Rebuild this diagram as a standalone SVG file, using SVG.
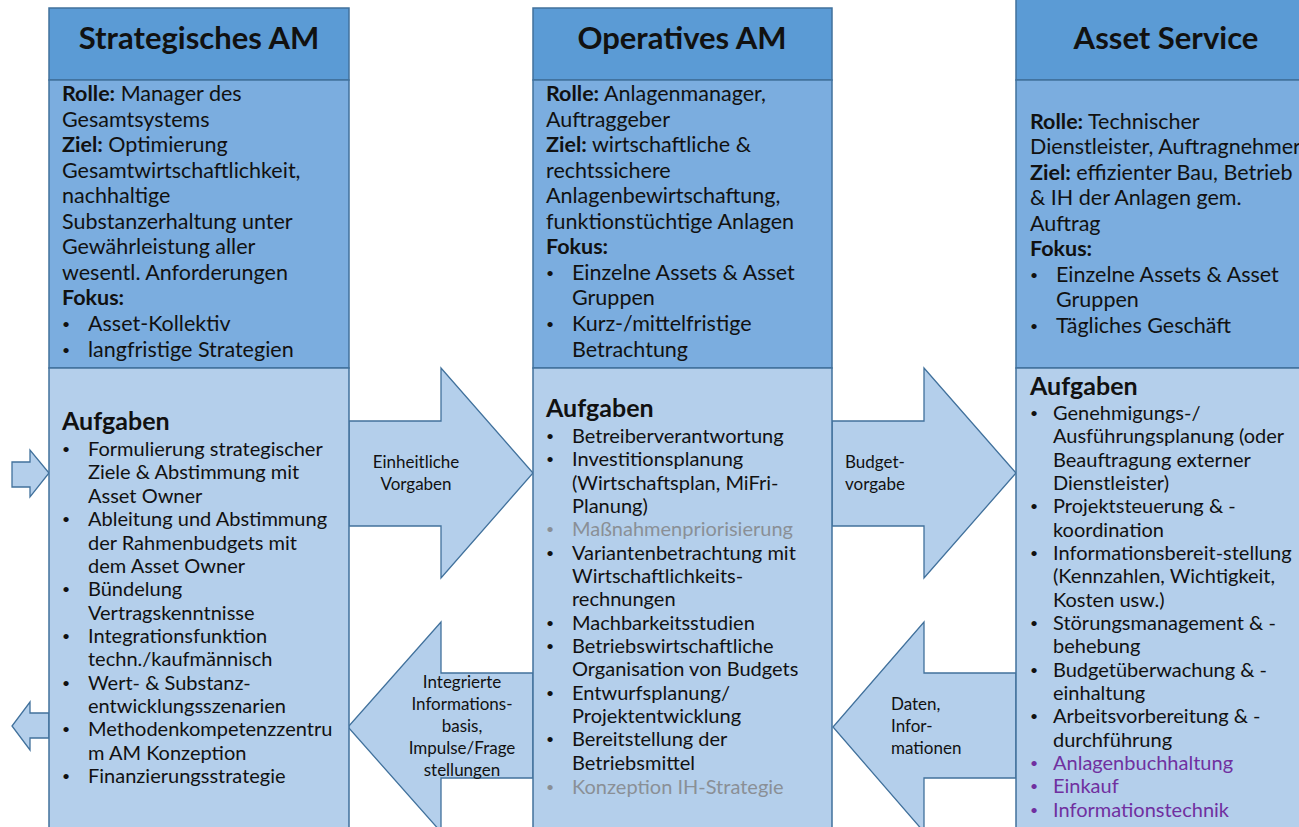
<svg xmlns="http://www.w3.org/2000/svg" width="1299" height="827" viewBox="0 0 1299 827">
<style>
.hd{fill:#5B9BD5;stroke:#41719C;stroke-width:1.5}
.up{fill:#7BADDF;stroke:#41719C;stroke-width:1.5}
.lo{fill:#B4CFEB;stroke:#41719C;stroke-width:1.5}
.ar{fill:#B4CFEB;stroke:#41719C;stroke-width:1.3}
text{font-family:Lato,"Open Sans","Liberation Sans",sans-serif;fill:#111}
.t{font-size:31px;font-weight:bold;text-anchor:middle}
.u{font-size:21.5px}
.l{font-size:20px}
.h{font-size:25px;font-weight:bold}
.b{font-weight:bold}
.g{fill:#8A8F96}
.p{fill:#7030A0}
.a{font-size:17px}
.m{text-anchor:middle}
.d{font-size:14px}
</style>
<rect width="1299" height="827" fill="#fff"/>
<g id="connectors">
<polygon class="ar" points="349,421 441,421 441,368 533,473 441,578 441,526 349,526"/>
<polygon class="ar" points="533,673 441,673 441,622 348,727 441,832 441,778 533,778"/>
<polygon class="ar" points="832,421 924,421 924,368 1016,473 924,578 924,526 832,526"/>
<polygon class="ar" points="1016,673 924,673 924,622 833,727 924,832 924,778 1016,778"/>
<polygon class="ar" points="12,462 30,462 30,450 49,473 30,497 30,487 12,487"/>
<polygon class="ar" points="49,713 30,713 30,702 12,726 30,750 30,738 49,738"/>
<text class="a m" x="416" y="468">Einheitliche</text>
<text class="a m" x="416" y="490">Vorgaben</text>
<text class="a m" x="462" y="688">Integrierte</text>
<text class="a m" x="462" y="710">Informations-</text>
<text class="a m" x="462" y="732">basis,</text>
<text class="a m" x="462" y="754">Impulse/Frage</text>
<text class="a m" x="462" y="776">stellungen</text>
<text class="a" x="845" y="468">Budget-</text>
<text class="a" x="845" y="490">vorgabe</text>
<text class="a" x="891" y="710">Daten,</text>
<text class="a" x="891" y="732">Infor-</text>
<text class="a" x="891" y="754">mationen</text>
</g>
<g id="strategisches">
<rect class="hd" x="49" y="8" width="300" height="72"/>
<rect class="up" x="49" y="80" width="300" height="288"/>
<rect class="lo" x="49" y="368" width="300" height="470"/>
<text class="t" x="199" y="49">Strategisches AM</text>
<g class="u">
<text x="62" y="101"><tspan class="b">Rolle:</tspan> Manager des</text>
<text x="62" y="127">Gesamtsystems</text>
<text x="62" y="152"><tspan class="b">Ziel:</tspan> Optimierung</text>
<text x="62" y="178">Gesamtwirtschaftlichkeit,</text>
<text x="62" y="203">nachhaltige</text>
<text x="62" y="229">Substanzerhaltung unter</text>
<text x="62" y="254">Gewährleistung aller</text>
<text x="62" y="280">wesentl. Anforderungen</text>
<text x="62" y="305" class="b">Fokus:</text>
<text x="62" y="329" class="d">•</text><text x="88" y="331">Asset-Kollektiv</text>
<text x="62" y="355" class="d">•</text><text x="88" y="357">langfristige Strategien</text>
</g>
<text class="h" x="62" y="430">Aufgaben</text>
<g class="l">
<text x="62" y="454" class="d">•</text><text x="88" y="456">Formulierung strategischer</text>
<text x="88" y="479">Ziele &amp; Abstimmung mit</text>
<text x="88" y="503">Asset Owner</text>
<text x="62" y="524" class="d">•</text><text x="88" y="526">Ableitung und Abstimmung</text>
<text x="88" y="550">der Rahmenbudgets mit</text>
<text x="88" y="573">dem Asset Owner</text>
<text x="62" y="594" class="d">•</text><text x="88" y="596">Bündelung</text>
<text x="88" y="620">Vertragskenntnisse</text>
<text x="62" y="641" class="d">•</text><text x="88" y="643">Integrationsfunktion</text>
<text x="88" y="666">techn./kaufmännisch</text>
<text x="62" y="688" class="d">•</text><text x="88" y="690">Wert- &amp; Substanz-</text>
<text x="88" y="713">entwicklungsszenarien</text>
<text x="62" y="734" class="d">•</text><text x="88" y="736">Methodenkompetenzzentru</text>
<text x="88" y="760">m AM Konzeption</text>
<text x="62" y="781" class="d">•</text><text x="88" y="783">Finanzierungsstrategie</text>
</g>
</g>
<g id="operatives">
<rect class="hd" x="533" y="8" width="299" height="72"/>
<rect class="up" x="533" y="80" width="299" height="288"/>
<rect class="lo" x="533" y="368" width="299" height="470"/>
<text class="t" x="682" y="49">Operatives AM</text>
<g class="u">
<text x="546" y="101"><tspan class="b">Rolle:</tspan> Anlagenmanager,</text>
<text x="546" y="127">Auftraggeber</text>
<text x="546" y="152"><tspan class="b">Ziel:</tspan> wirtschaftliche &amp;</text>
<text x="546" y="178">rechtssichere</text>
<text x="546" y="203">Anlagenbewirtschaftung,</text>
<text x="546" y="229">funktionstüchtige Anlagen</text>
<text x="546" y="254" class="b">Fokus:</text>
<text x="546" y="278" class="d">•</text><text x="572" y="280">Einzelne Assets &amp; Asset</text>
<text x="572" y="305">Gruppen</text>
<text x="546" y="329" class="d">•</text><text x="572" y="331">Kurz-/mittelfristige</text>
<text x="572" y="357">Betrachtung</text>
</g>
<text class="h" x="546" y="417">Aufgaben</text>
<g class="l">
<text x="546" y="441" class="d">•</text><text x="572" y="443">Betreiberverantwortung</text>
<text x="546" y="464" class="d">•</text><text x="572" y="466">Investitionsplanung</text>
<text x="572" y="490">(Wirtschaftsplan, MiFri-</text>
<text x="572" y="513">Planung)</text>
<text x="546" y="534" class="d g">•</text><text x="572" y="536" class="g">Maßnahmenpriorisierung</text>
<text x="546" y="558" class="d">•</text><text x="572" y="560">Variantenbetrachtung mit</text>
<text x="572" y="583">Wirtschaftlichkeits-</text>
<text x="572" y="606">rechnungen</text>
<text x="546" y="628" class="d">•</text><text x="572" y="630">Machbarkeitsstudien</text>
<text x="546" y="651" class="d">•</text><text x="572" y="653">Betriebswirtschaftliche</text>
<text x="572" y="676">Organisation von Budgets</text>
<text x="546" y="698" class="d">•</text><text x="572" y="700">Entwurfsplanung/</text>
<text x="572" y="723">Projektentwicklung</text>
<text x="546" y="744" class="d">•</text><text x="572" y="746">Bereitstellung der</text>
<text x="572" y="770">Betriebsmittel</text>
<text x="546" y="792" class="d g">•</text><text x="572" y="794" class="g">Konzeption IH-Strategie</text>
</g>
</g>
<g id="assetservice">
<rect class="hd" x="1016" y="-2" width="300" height="82"/>
<rect class="up" x="1016" y="80" width="300" height="288"/>
<rect class="lo" x="1016" y="368" width="300" height="470"/>
<text class="t" x="1166" y="49">Asset Service</text>
<g class="u">
<text x="1030" y="129"><tspan class="b">Rolle:</tspan> Technischer</text>
<text x="1030" y="154">Dienstleister, Auftragnehmer</text>
<text x="1030" y="180"><tspan class="b">Ziel:</tspan> effizienter Bau, Betrieb</text>
<text x="1030" y="205">&amp; IH der Anlagen gem.</text>
<text x="1030" y="231">Auftrag</text>
<text x="1030" y="256" class="b">Fokus:</text>
<text x="1030" y="280" class="d">•</text><text x="1056" y="282">Einzelne Assets &amp; Asset</text>
<text x="1056" y="307">Gruppen</text>
<text x="1030" y="331" class="d">•</text><text x="1056" y="333">Tägliches Geschäft</text>
</g>
<text class="h" x="1030" y="395">Aufgaben</text>
<g class="l">
<text x="1030" y="418" class="d">•</text><text x="1053" y="420">Genehmigungs-/</text>
<text x="1053" y="443">Ausführungsplanung (oder</text>
<text x="1053" y="467">Beauftragung externer</text>
<text x="1053" y="490">Dienstleister)</text>
<text x="1030" y="511" class="d">•</text><text x="1053" y="513">Projektsteuerung &amp; -</text>
<text x="1053" y="537">koordination</text>
<text x="1030" y="558" class="d">•</text><text x="1053" y="560">Informationsbereit-stellung</text>
<text x="1053" y="583">(Kennzahlen, Wichtigkeit,</text>
<text x="1053" y="607">Kosten usw.)</text>
<text x="1030" y="628" class="d">•</text><text x="1053" y="630">Störungsmanagement &amp; -</text>
<text x="1053" y="653">behebung</text>
<text x="1030" y="675" class="d">•</text><text x="1053" y="677">Budgetüberwachung &amp; -</text>
<text x="1053" y="700">einhaltung</text>
<text x="1030" y="721" class="d">•</text><text x="1053" y="723">Arbeitsvorbereitung &amp; -</text>
<text x="1053" y="747">durchführung</text>
<text x="1030" y="768" class="d p">•</text><text x="1053" y="770" class="p">Anlagenbuchhaltung</text>
<text x="1030" y="791" class="d p">•</text><text x="1053" y="793" class="p">Einkauf</text>
<text x="1030" y="815" class="d p">•</text><text x="1053" y="817" class="p">Informationstechnik</text>
</g>
</g>
</svg>
